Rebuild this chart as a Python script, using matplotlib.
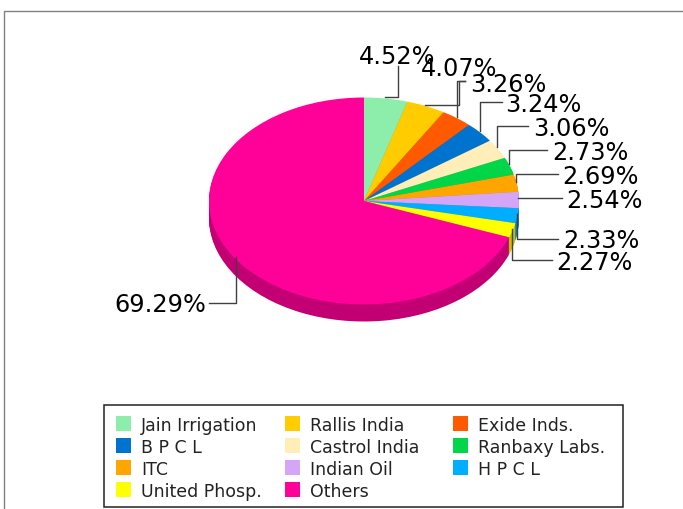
import matplotlib
matplotlib.use('Agg')
import numpy as np
import matplotlib.pyplot as plt
from matplotlib.patches import Rectangle

names = ['Jain Irrigation', 'Rallis India', 'Exide Inds.', 'B P C L', 'Castrol India',
         'Ranbaxy Labs.', 'ITC', 'Indian Oil', 'H P C L', 'United Phosp.', 'Others']
shares = [4.52, 4.07, 3.26, 3.24, 3.06, 2.73, 2.69, 2.54, 2.33, 2.27, 69.29]
colors = ['#8CEEAA', '#FFCC00', '#FF5A00', '#0073CF', '#FFEEB8', '#00D647',
          '#FFA500', '#D5A6F8', '#00AEFF', '#FFFF00', '#FF0099']

# label anchor (left edge, middle) and leader line, in image pixels
label_pos = [(359, 54), (421, 66), (470, 82), (505, 103), (533, 127),
             (552, 151), (562, 175), (566, 199), (563, 239), (556, 261), (114, 303)]
leaders = [[(385, 98), (397.5, 98), (397.5, 67)],
           [(425, 106), (459, 106), (459, 82), (465, 82)],
           [(457, 118), (457, 82), (465, 82)],
           [(480, 132), (480, 103), (502, 103)],
           [(497, 148), (497, 127), (528, 127)],
           [(509, 165), (509, 151), (547, 151)],
           [(516, 183), (516, 175), (558, 175)],
           [(518, 199), (562, 199)],
           [(517, 215), (517, 240), (558, 240)],
           [(512, 230), (512, 261), (552, 261)],
           [(236, 258), (236, 304), (209, 304)]]

W, H = 683, 510
cx, cy, rx, ry, depth = 364, 202, 155, 103.5, 17

fig = plt.figure(figsize=(W / 100, H / 100), dpi=100)

# pie axes sized so that radius 1 is rx by ry pixels
ax = fig.add_axes([(cx - 1.25 * rx) / W, (H - cy - 1.25 * ry) / H, 2.5 * rx / W, 2.5 * ry / H])
dark = [tuple(c * 0.76 for c in matplotlib.colors.to_rgb(col)) for col in colors]
for off in np.arange(depth, 0, -1):
    ax.pie(shares, colors=dark, startangle=90, counterclock=False,
           center=(0, -off / ry), wedgeprops={'linewidth': 0})
ax.pie(shares, colors=colors, startangle=90, counterclock=False,
       wedgeprops={'linewidth': 0})
ax.set_aspect('auto')
ax.set_xlim(-1.25, 1.25)
ax.set_ylim(-1.25, 1.25)

# overlay in image pixels for labels, legend and frame
ov = fig.add_axes([0, 0, 1, 1])
ov.set_xlim(0, W)
ov.set_ylim(H, 0)
ov.axis('off')
ov.patch.set_alpha(0)

ov.plot([683, 4, 4], [11.5, 11.5, 510], color='#808080', lw=1.0, solid_joinstyle='miter')

for share, (x, y), line in zip(shares, label_pos, leaders):
    ov.plot(*zip(*line), color='#404040', lw=1.0)
    ov.text(x, y, '%.2f%%' % share, fontsize=17.3, color='black', ha='left', va='center_baseline')

# legend, filled row by row
ov.add_patch(Rectangle((104, 405.5), 519, 102, fc='white', ec='#222222', lw=1.1))
col_x = [116, 285, 453]
row_y = [424, 446, 468, 490]
for i, (name, col) in enumerate(zip(names, colors)):
    x = col_x[i % 3]
    y = row_y[i // 3]
    ov.add_patch(Rectangle((x, y - 7), 15, 15, fc=col, ec='none'))
    ov.text(x + 25, y, name, fontsize=12.5, color='#222222', ha='left', va='center_baseline')

fig.savefig('out.png', dpi=100)
